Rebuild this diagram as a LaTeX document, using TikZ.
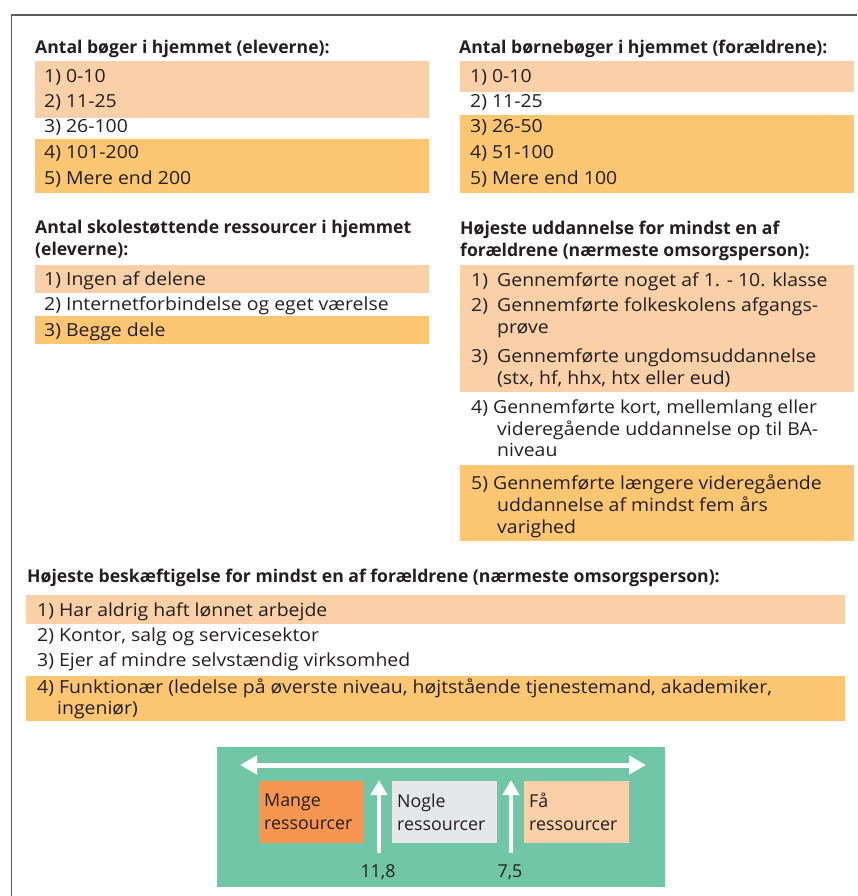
\documentclass[tikz,border=0pt]{standalone}
\usepackage{fontspec}
\setmainfont{Open Sans}
\newfontfamily\bred[FakeStretch=1.08]{Open Sans}
\usepackage{tikz}
\usetikzlibrary{arrows.meta,positioning}
\definecolor{lysorange}{RGB}{249,208,168}
\definecolor{moerkorange}{RGB}{253,198,114}
\definecolor{mangefarve}{RGB}{246,150,80}
\definecolor{noglefarve}{RGB}{230,231,232}
\definecolor{groen}{RGB}{112,198,167}
\definecolor{tekstfarve}{RGB}{35,31,32}
\definecolor{rammefarve}{RGB}{90,90,90}
\newcommand{\brod}{\bred\fontsize{18}{23}\selectfont}
\newcommand{\fed}{\fontsize{17.6}{23}\selectfont\bfseries}
\newcommand{\skalatekst}{\fontsize{17.8}{23}\selectfont}

\begin{document}
\begin{tikzpicture}[x=1pt, y=-1pt, >=latex,
  tekst/.style={anchor=base west, inner sep=0pt, font=\brod, text=tekstfarve},
  overskrift/.style={tekst, font=\fed},
  lys/.style={fill=lysorange},
  moerk/.style={fill=moerkorange},
  boks/.style={anchor=north west, minimum width=105pt, minimum height=62pt, text width=95pt,
    inner xsep=5pt, inner ysep=0pt, align=left, font=\skalatekst, text=tekstfarve},
  pil/.style={white, line width=4.5pt, -{Triangle[length=15pt,width=16pt]}}]
\useasboundingbox (0,0) rectangle (857,896);
\draw[rammefarve, line width=1.4pt] (11.5,896) -- (11.5,15) -- (857,15);

% farvede baand
\fill[lys]   (35,61)   rectangle (429,118);
\fill[moerk] (35,139)  rectangle (429,193);
\fill[lys]   (460,61)  rectangle (854,92);
\fill[moerk] (460,115) rectangle (854,193);
\fill[lys]   (35,265)  rectangle (429,293);
\fill[moerk] (35,316)  rectangle (429,344);
\fill[lys]   (460,265) rectangle (854,392);
\fill[moerk] (460,465) rectangle (854,541);
\fill[lys]   (26,595)  rectangle (845,624);
\fill[moerk] (26,676)  rectangle (845,721);

% boeger, elever
\node[overskrift] (bo) at (35,54) {Antal bøger i hjemmet (eleverne):};
\node[tekst] (bo1) at (44,83)  {1) 0-10};
\node[tekst] (bo2) at (44,108) {2) 11-25};
\node[tekst] (bo3) at (44,133) {3) 26-100};
\node[tekst] (bo4) at (44,159) {4) 101-200};
\node[tekst] (bo5) at (44,185) {5) Mere end 200};

% boerneboeger, foraeldre
\node[overskrift] (bb) at (459,54) {Antal børnebøger i hjemmet (forældrene):};
\node[tekst] (bb1) at (470,83)  {1) 0-10};
\node[tekst] (bb2) at (470,108) {2) 11-25};
\node[tekst] (bb3) at (470,133) {3) 26-50};
\node[tekst] (bb4) at (470,159) {4) 51-100};
\node[tekst] (bb5) at (470,185) {5) Mere end 100};

% skolestoettende ressourcer
\node[overskrift] (sk)  at (35,233) {Antal skolestøttende ressourcer i hjemmet};
\node[overskrift] (skb) at (35,255) {(eleverne):};
\node[tekst] (sk1) at (44,285) {1) Ingen af delene};
\node[tekst] (sk2) at (44,310) {2) Internetforbindelse og eget værelse};
\node[tekst] (sk3) at (44,336) {3) Begge dele};

% uddannelse
\node[overskrift] (ud)  at (460,234) {Højeste uddannelse for mindst en af};
\node[overskrift] (udb) at (460,256) {forældrene (nærmeste omsorgsperson):};
\node[tekst] (ud1)  at (471,286) {1)};
\node[tekst] (ud1t) at (497,286) {Gennemførte noget af 1. - 10. klasse};
\node[tekst] (ud2)  at (471,311) {2)};
\node[tekst] (ud2t) at (497,311) {Gennemførte folkeskolens afgangs-};
\node[tekst] (ud2b) at (497,333) {prøve};
\node[tekst] (ud3)  at (471,362) {3)};
\node[tekst] (ud3t) at (497,362) {Gennemførte ungdomsuddannelse};
\node[tekst] (ud3b) at (497,384) {(stx, hf, hhx, htx eller eud)};
\node[tekst] (ud4)  at (471,413) {4) Gennemførte kort, mellemlang eller};
\node[tekst] (ud4b) at (497,435) {videregående uddannelse op til BA-};
\node[tekst] (ud4c) at (497,456) {niveau};
\node[tekst] (ud5)  at (471,489) {5) Gennemførte længere videregående};
\node[tekst] (ud5b) at (497,511) {uddannelse af mindst fem års};
\node[tekst] (ud5c) at (497,533) {varighed};

% beskaeftigelse
\node[overskrift] (be) at (27,582) {Højeste beskæftigelse for mindst en af forældrene (nærmeste omsorgsperson):};
\node[tekst] (be1)  at (37,616) {1) Har aldrig haft lønnet arbejde};
\node[tekst] (be2)  at (37,641) {2) Kontor, salg og servicesektor};
\node[tekst] (be3)  at (37,666) {3) Ejer af mindre selvstændig virksomhed};
\node[tekst] (be4)  at (37,693) {4) Funktionær (ledelse på øverste niveau, højtstående tjenestemand, akademiker,};
\node[tekst] (be4b) at (57,714) {ingeniør)};

% skala
\fill[groen] (217,747) rectangle (665,887);
\coordinate (venstre) at (240,765);
\coordinate (hoejre)  at (646,765);
\draw[white, line width=5pt, {Triangle[length=17pt,width=18pt]}-{Triangle[length=17pt,width=18pt]}] (venstre) -- (hoejre);
\node[boks, fill=mangefarve] (mange) at (259,781) {Mange\\ressourcer};
\node[boks, fill=noglefarve] (nogle) at (392,781) {Nogle\\ressourcer};
\node[boks, fill=lysorange]  (faa)   at (524,781) {Få\\ressourcer};
\node[tekst, font=\skalatekst, anchor=base] (graense1) at (378,877) {11,8};
\node[tekst, font=\skalatekst, anchor=base] (graense2) at (510,877) {7,5};
\coordinate (pilfod1) at (379,853);
\coordinate (pilfod2) at (511,853);
\draw[pil] (pilfod1) -- (379,780);
\draw[pil] (pilfod2) -- (511,780);
\end{tikzpicture}
\end{document}
